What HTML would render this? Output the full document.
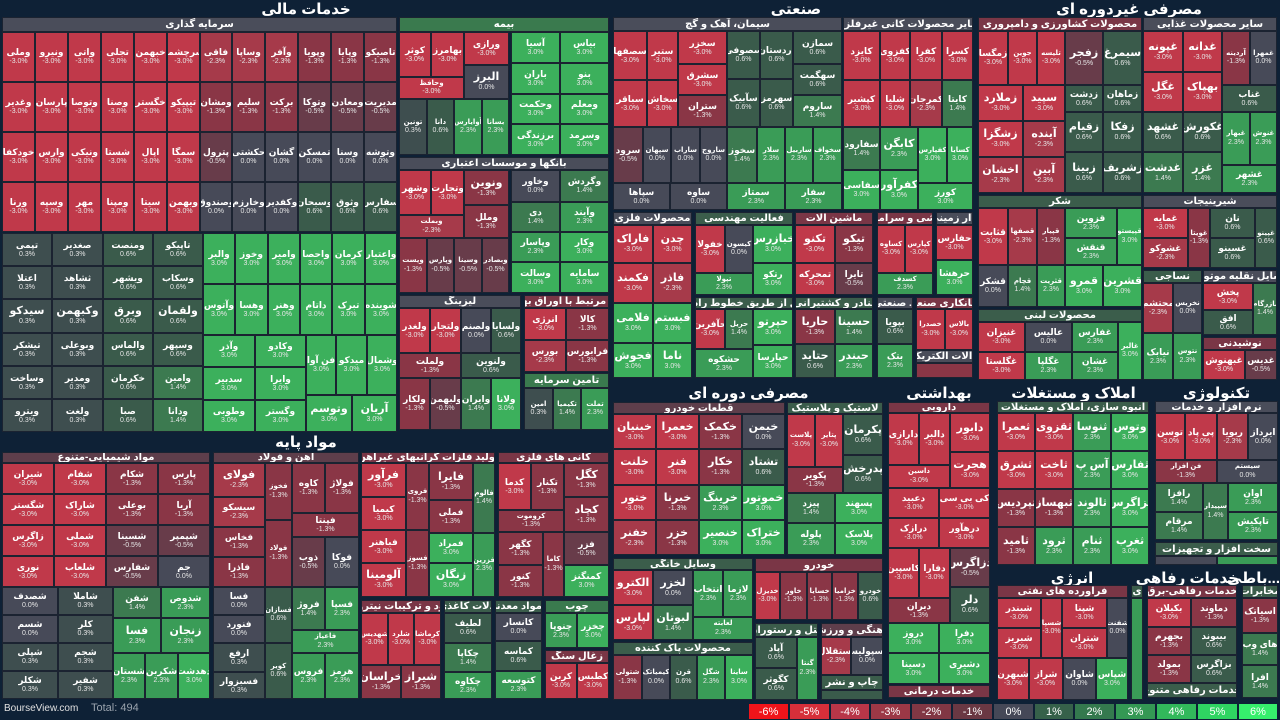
<!DOCTYPE html>
<html><head><meta charset="utf-8">
<style>
html,body{margin:0;padding:0;background:#0e2136;}
#m{position:relative;width:1280px;height:720px;overflow:hidden;background:#0e2136;font-family:"Liberation Sans","DejaVu Sans",sans-serif;direction:rtl;}
.c{position:absolute;box-sizing:border-box;border:1px solid #1b2331;display:flex;flex-direction:column;align-items:center;justify-content:center;color:#fff;overflow:hidden;text-align:center;line-height:1.2;white-space:nowrap}
.c b{font-weight:bold}
.c i{font-style:normal;font-size:7px;color:#e6e6e6;direction:ltr;unicode-bidi:isolate}
.h{position:absolute;box-sizing:border-box;border:1px solid #1b2331;display:flex;align-items:center;justify-content:center;color:#fff;font-size:10px;font-weight:bold;overflow:hidden;white-space:nowrap}
.t{position:absolute;color:#fff;font-size:15px;font-weight:bold;text-align:center;white-space:nowrap}
.lg{position:absolute;top:703px;height:17px;color:#fff;font-size:11px;display:flex;align-items:center;justify-content:center;box-sizing:border-box;border:1px solid #0e2136;font-family:"Liberation Sans",sans-serif;direction:ltr}
</style></head><body>
<div id="m"></div>
<script>
const W=document.getElementById('m');
const P={R:['#c0394a','-3.0%'],r:['#a63a4a','-2.3%'],m:['#8a3646','-1.3%'],n:['#683c4a','-0.5%'],g:['#474a58','0.0%'],h:['#3e4e4f','0.3%'],d:['#3a5b4b','0.6%'],e:['#3c7a50','1.4%'],G:['#3a9c57','2.3%'],B:['#3cb05c','3.0%']};
const HR='#7a3646',HG='#4a4d5a',HD='#3b5d4b',HE='#3a7a4e',HM='#5e3e4b';
function el(x,y,w,h,bg,html,cls){const d=document.createElement('div');d.className=cls;d.style.cssText='left:'+x+'px;top:'+y+'px;width:'+w+'px;height:'+h+'px;background:'+bg;d.innerHTML=html;W.appendChild(d);}
function C(x,y,w,h,c,n){const p=P[c];n=n||'';let fs=(w>=38&&h>=34)?11:(w>=30&&h>=24?9:7);let html;
 if(h>=22&&w>=20){html='<b style="font-size:'+fs+'px">'+n+'</b><i>'+p[1]+'</i>'}else html='<b style="font-size:7px">'+n+'</b>';el(x,y,w,h,p[0],html,'c');}
function H(x,y,w,h,t,bg){el(x,y,w,h,bg,'<span>'+t+'</span>','h');}
function T(x,y,w,t){const d=document.createElement('div');d.className='t';d.style.cssText='left:'+x+'px;top:'+y+'px;width:'+w+'px';d.textContent=t;W.appendChild(d);}
function G(x,y,w,h,rows,cols,cs,ns){ns=ns.split('|');const cw=w/cols,ch=h/rows;let k=0;for(let i=0;i<rows;i++)for(let j=0;j<cols;j++){C(Math.round(x+j*cw),Math.round(y+i*ch),Math.round(x+(j+1)*cw)-Math.round(x+j*cw),Math.round(y+(i+1)*ch)-Math.round(y+i*ch),cs[k],ns[k]||'');k++;}}

T(0,0,612,'خدمات مالی');T(612,0,368,'صنعتی');T(978,0,302,'مصرفی غیردوره ای');
T(0,433,612,'مواد پایه');T(612,384,273,'مصرفی دوره ای');T(885,384,108,'بهداشتی');
T(996,384,155,'املاک و مستغلات');T(1153,384,127,'تکنولوژی');T(996,569,152,'انرژی');
T(1147,569,92,'خدمات رفاهی');T(1238,569,42,'...باطی');

H(2,17,395,15,'سرمایه گذاری',HG);
G(2,32,395,200,4,12,'RRRRRRrrrmmmRRRRRRmmmnnnRRRRRRngggggRRRRRRgggddd',
'وملی|ونیرو|واتی|تجلی|خبهمن|سرچشمه|فاقی|وساپا|وآفر|وپویا|وپایا|تاصیکو|وغدیر|پارسان|وتوصا|وصنا|خگستر|تیپیکو|ومشان|سلیم|برکت|وتوکا|ومعادن|مدیریت|خودکفا|وارس|ونیکی|شستا|اپال|سمگا|پترول|حکشتی|گشان|تمسکن|وسنا|وتوشه|ورنا|وسپه|مهر|ومپنا|سیتا|وبهمن|وصندوق|وخارزم|وکفدیر|وسبحان|وثوق|سفارس');
G(2,233,201,199,6,4,'hhddhhddhhddhhddhhdehhde','تپمی|صغدیر|ومنصت|تاپیکو|اعتلا|ثشاهد|ویشهر|وسکاب|سیدکو|وکبهمن|وبرق|ولقمان|تیشکر|وبوعلی|والماس|وسپهر|وساخت|ومدیر|خکرمان|وامین|ویترو|ولغت|صبا|ودانا');
G(203,233,194,102,2,6,'BBBBBBBBBBBB','والبر|وخوز|وامیر|واحصا|کرمان|واعتبار|وآتوس|وهسا|وهنر|داتام|تبرک|شوینده');
G(203,335,103,97,3,2,'BBBBBB','وآذر|وکادو|سدبیر|وایرا|وطوبی|وگستر');
G(306,335,91,60,1,3,'BBB','فن آوا|میدکو|وشمال');
G(306,395,91,37,1,2,'BB','وتوسم|آریان');
H(399,17,210,15,'بیمه',HE);
C(399,32,32,45,'R','کوثر');C(431,32,33,45,'R','بهامرز');C(399,77,65,22,'R','وحافظ');
C(464,32,45,33,'R','ورازی');C(464,65,45,34,'g','البرز');
C(399,99,28,56,'h','تونین');C(427,99,27,56,'d','دانا');C(454,99,28,56,'G','آوایارس');C(482,99,27,56,'G','بسانا');
G(511,32,98,123,4,2,'BBBBBBBB','آسیا|بیاس|باران|بنو|وحکمت|ومعلم|برزندگی|وسرمد');
H(399,157,210,13,'بانکها و موسسات اعتباری',HG);
C(399,170,32,45,'R','وشهر');C(431,170,33,45,'R','وتجارت');C(399,215,65,23,'r','وبملت');
C(464,170,45,35,'m','ونوین');C(464,205,45,33,'m','وملل');
C(399,238,28,55,'m','وپست');C(427,238,27,55,'n','وپارس');C(454,238,28,55,'n','وسینا');C(482,238,27,55,'n','وبصادر');
C(511,170,49,32,'g','وخاور');C(560,170,49,32,'e','وگردش');C(511,202,49,30,'e','دی');C(560,202,49,30,'G','وآیند');
C(511,232,49,30,'G','وپاسار');C(560,232,49,30,'B','وکار');C(511,262,49,31,'B','وسالت');C(560,262,49,31,'B','سامایه');
H(399,295,122,13,'لیزینگ',HG);
C(399,308,31,45,'R','ولغدر');C(430,308,31,45,'R','ولتجار');C(461,308,30,45,'g','ولصنم');C(491,308,30,45,'d','ولسایا');
C(399,353,62,25,'m','ولملت');C(461,353,60,25,'d','ولنوین');
C(399,378,31,52,'m','ولکار');C(430,378,31,52,'n','ولبهمن');C(461,378,30,52,'e','وایران');C(491,378,30,52,'B','ولانا');
H(524,295,85,13,'...ای مرتبط با اوراق بهادار',HR);
C(524,308,42,32,'R','انرژی');C(566,308,43,32,'m','کالا');C(524,340,42,32,'r','بورس');C(566,340,43,32,'m','فرابورس');
H(524,373,85,15,'تامین سرمایه',HE);
C(524,388,29,42,'h','امین');C(553,388,28,42,'e','تکیمیا');C(581,388,28,42,'G','تملت');

H(613,17,229,14,'سیمان، آهک و گچ',HG);
C(613,31,34,49,'R','سصفها');C(647,31,31,49,'R','ستیر');C(613,80,34,47,'R','سباقر');C(647,80,31,47,'R','سخاش');
C(678,31,49,33,'R','سخزر');C(678,64,49,31,'R','سشرق');C(678,95,49,32,'m','ستران');
C(727,31,33,48,'d','سصوفی');C(760,31,33,48,'d','اردستان');C(727,79,33,48,'d','سآبیک');C(760,79,33,48,'d','سهرمز');
C(793,31,49,33,'d','سمازن');C(793,64,49,31,'d','سهگمت');C(793,95,49,32,'e','ساروم');
C(613,127,30,56,'n','سرود');C(643,127,28,56,'g','سپهان');C(671,127,29,56,'g','ساراب');C(700,127,27,56,'g','ساروج');
C(727,127,30,56,'e','سخوز');C(757,127,28,56,'G','سلار');C(785,127,28,56,'G','ساربیل');C(813,127,29,56,'G','سخواف');
C(613,183,57,27,'g','سپاها');C(670,183,57,27,'g','ساوه');C(727,183,58,27,'G','سمتاز');C(785,183,57,27,'G','سفار');
H(843,17,130,14,'سایر محصولات کانی غیرفلزی',HG);
C(843,31,37,49,'R','کایزد');C(880,31,30,49,'R','کفزوی');C(910,31,32,49,'R','کفرا');C(942,31,31,49,'R','کسرا');
C(843,80,37,47,'R','کپشیر');C(880,80,30,47,'R','شلیا');C(910,80,32,47,'r','کمرجان');C(942,80,31,47,'e','کایتا');
C(843,127,37,43,'e','سفارود');C(880,127,38,43,'G','کابگن');C(843,170,37,40,'B','سفاسی');C(880,170,38,40,'B','کفرآور');
C(918,127,29,56,'B','کفپارس');C(947,127,26,56,'B','کسایا');C(918,183,55,27,'B','کورز');
H(613,212,79,13,'محصولات فلزی',HG);
C(613,225,40,38,'R','فاراک');C(653,225,39,38,'R','چدن');C(613,263,40,40,'R','فکمند');C(653,263,39,40,'r','فاذر');
C(613,303,40,40,'B','فلامی');C(653,303,39,40,'B','فبستم');C(613,343,40,35,'B','فجوش');C(653,343,39,35,'B','ناما');
H(695,212,98,13,'فعالیت مهندسی',HD);
C(695,225,30,48,'R','خفولا');C(725,225,28,48,'g','کیسون');C(695,273,58,22,'G','تپولا');C(753,225,40,38,'B','خبازرس');C(753,263,40,32,'B','رتکو');
H(695,297,98,12,'...نقل از طریق خطوط راه آهن',HD);
C(695,309,30,40,'R','حآفرین');C(725,309,28,40,'e','حریل');C(695,349,58,29,'G','حشکوه');C(753,309,40,36,'B','حپرتو');C(753,345,40,33,'B','حپارسا');
H(795,212,78,13,'ماشین آلات',HR);
C(795,225,40,38,'R','تکنو');C(835,225,38,38,'m','تیکو');C(795,263,40,32,'R','تمحرکه');C(835,263,38,32,'n','تایرا');
H(795,297,78,12,'بنادر و کشتیرانی',HD);
C(795,309,40,35,'m','حاریا');C(835,309,38,35,'e','حسینا');C(795,344,40,34,'d','حتاید');C(835,344,38,34,'G','حبندر');
H(877,212,56,13,'کاشی و سرامیک',HR);
C(877,225,28,48,'R','کساوه');C(905,225,28,48,'R','کپارس');C(877,273,56,22,'G','کسدف');
H(936,212,37,13,'...ار زمینی',HG);
C(936,225,37,35,'R','حفارس');C(936,260,37,35,'B','حرهشا');
H(877,297,36,12,'... صنعتی',HG);
C(877,309,36,35,'d','بپویا');C(877,344,36,34,'G','بتک');
H(916,297,57,12,'پیمانکاری صنعتی',HR);
C(916,309,29,41,'R','خصدرا');C(945,309,28,41,'R','بالاس');
H(916,350,57,13,'... آلات الکتریکی',HG);C(916,363,57,15,'m','');

H(978,17,164,14,'محصولات کشاورزی و دامپروری',HR);
C(978,31,30,54,'R','زمگسا');C(1008,31,29,54,'R','جوین');C(1037,31,28,54,'R','تلیسه');C(1065,31,38,54,'n','زفجر');C(1103,31,39,54,'d','سیمرغ');
C(978,85,45,36,'R','زملارد');C(1023,85,42,36,'R','سپید');C(978,121,45,36,'R','زشگزا');C(1023,121,42,36,'r','آینده');C(978,157,45,36,'r','اخشان');C(1023,157,42,36,'r','آبین');
C(1065,85,38,27,'d','زدشت');C(1103,85,39,27,'d','زماهان');C(1065,112,38,40,'d','زقیام');C(1103,112,39,40,'d','زفکا');C(1065,152,38,41,'d','زبینا');C(1103,152,39,41,'d','زشریف');
H(1143,17,134,14,'سایر محصولات غذایی',HG);
C(1143,31,40,41,'R','غپونه');C(1183,31,39,41,'R','غدانه');C(1143,72,40,40,'R','غگل');C(1183,72,39,40,'R','بهپاک');
C(1222,31,28,54,'m','آردینه');C(1250,31,27,54,'g','غمهرا');C(1222,85,55,27,'d','غناب');
C(1143,112,40,40,'d','غشهد');C(1183,112,39,40,'d','غکورش');C(1143,152,40,41,'e','غدشت');C(1183,152,39,41,'e','غزر');
C(1222,112,28,53,'G','غبهار');C(1250,112,27,53,'G','غنوش');C(1222,165,55,28,'G','غشهر');
H(978,195,164,13,'شکر',HD);
C(978,208,30,57,'R','قثابت');C(1008,208,29,57,'r','قصفها');C(1037,208,28,57,'m','قپیار');C(1065,208,52,30,'G','قزوین');C(1065,238,52,27,'G','قنقش');C(1117,208,25,57,'B','قپیستو');
C(978,265,30,42,'g','قشکر');C(1008,265,29,42,'e','قچام');C(1037,265,28,42,'G','قثریت');C(1065,265,38,42,'B','قمرو');C(1103,265,39,42,'B','قشرین');
H(978,309,164,13,'محصولات لبنی',HD);
C(978,322,47,30,'R','غنیزان');C(1025,322,47,30,'g','عالیس');C(978,352,47,28,'R','غگلستا');C(1025,352,47,28,'G','غگلپا');
C(1072,322,46,30,'G','غفارس');C(1072,352,46,28,'G','غشان');C(1118,322,24,58,'B','غالبر');
H(1143,195,134,13,'شیرینیجات',HG);
C(1143,208,45,30,'R','غمایه');C(1143,238,45,30,'r','غشوکو');C(1188,208,22,60,'m','غویتا');C(1210,208,45,30,'d','نان');C(1210,238,45,30,'d','غسینو');C(1255,208,22,60,'d','غپینو');
H(1143,270,59,13,'نساجی',HD);
C(1143,283,30,50,'r','محتشم');C(1173,283,29,50,'g','نخریس');C(1143,333,30,47,'G','نیابک');C(1173,333,29,47,'G','نتوس');
H(1203,270,74,13,'...سایل نقلیه موتوری',HG);
C(1203,283,50,27,'R','پخش');C(1203,310,50,25,'d','افق');C(1253,283,24,52,'e','بازرگام');
H(1203,337,74,13,'نوشیدنی',HR);
C(1203,350,42,30,'R','غبهنوش');C(1245,350,32,30,'n','غدیس');

H(613,402,172,12,'قطعات خودرو',HM);
G(613,414,172,141,4,4,'RRmgRRmdRmGBrmBB','خبنیان|خعمرا|خکمک|خیمن|خلنت|فنر|خکار|تشتاد|ختور|خبرنا|خرینگ|خموتور|خفنر|خزر|خنصیر|ختراک');
H(787,402,96,12,'لاستیک و پلاستیک',HD);
C(787,414,28,53,'R','پلاست');C(815,414,28,53,'R','پتایر');C(787,467,56,26,'m','پکویر');C(843,414,40,41,'d','پکرمان');C(843,455,40,38,'d','پدرخش');
C(787,493,48,30,'e','پیزد');C(835,493,48,30,'B','پسهند');C(787,523,48,32,'G','پلوله');C(835,523,48,32,'B','پلاسک');
H(613,558,140,12,'وسایل خانگی',HD);
C(613,570,40,35,'R','الکترو');C(653,570,40,35,'g','لخزر');C(613,605,40,35,'R','لپارس');C(653,605,40,35,'e','لبوتان');
C(693,570,30,47,'G','انتخاب');C(723,570,30,47,'G','لازما');C(693,617,60,23,'G','لعابته');
H(755,558,128,14,'خودرو',HR);
C(755,572,25,48,'R','خدیزل');C(780,572,27,48,'m','خاور');C(807,572,25,48,'m','خسایا');C(832,572,26,48,'m','خزامیا');C(858,572,25,48,'d','خودرو');
H(613,642,140,13,'محصولات پاک کننده',HD);
C(613,655,29,45,'m','شتولی');C(642,655,28,45,'g','کیمیاتک');C(670,655,27,45,'d','قرن');C(697,655,28,45,'G','شگل');C(725,655,28,45,'B','ساینا');
H(755,623,63,14,'هتل و رستوران',HD);
C(755,637,42,31,'d','آپاد');C(755,668,42,32,'d','کگوثر');C(797,637,21,63,'G','گنتا');
H(821,623,62,14,'...رهنگی و ورزشی',HM);
C(821,637,30,38,'r','استقلال');C(851,637,32,38,'g','رسپولیس');
H(821,675,62,15,'چاپ و نشر',HD);C(821,690,62,10,'d','');

H(888,402,102,11,'دارویی',HR);
C(888,413,31,52,'R','دارازی');C(919,413,31,52,'R','دالبر');C(950,413,40,39,'R','دابور');C(888,465,62,23,'R','داسین');C(950,452,40,36,'R','هجرت');
C(888,488,51,30,'R','دعبید');C(939,488,51,30,'R','کی بی سی');C(888,518,51,30,'R','درازک');C(939,518,51,30,'R','درهآور');
C(888,548,31,50,'R','کاسپین');C(919,548,31,50,'R','دفارا');C(950,548,40,39,'n','دزاگرس');C(888,598,62,25,'m','دیران');C(950,587,40,36,'d','دلر');
C(888,623,51,30,'B','دروز');C(939,623,51,30,'B','دفرا');C(888,653,51,31,'B','دسینا');C(939,653,51,31,'B','دشیری');
H(888,685,102,13,'خدمات درمانی',HR);

H(997,401,152,12,'انبوه سازی، املاک و مستغلات',HD);
G(997,413,152,152,4,4,'RRGBRRGBmmGBmGGB','ثعمرا|ثقزوی|ثنوسا|وتوس|ثشرق|ثاخت|آس پ|ثفارس|ثپردیس|ثبهساز|ثالوند|ثزاگرس|ثامید|ثرود|ثنام|ثغرب');

H(1155,401,123,12,'نرم افزار و خدمات',HG);
C(1155,413,30,47,'R','توسن');C(1185,413,32,47,'R','پی پاد');C(1217,413,31,47,'r','ربویا');C(1248,413,30,47,'g','ایرداز');
C(1155,460,62,23,'m','فن افزار');C(1217,460,61,23,'g','سیستم');
C(1155,483,48,29,'e','رافزا');C(1155,512,48,28,'e','مرقام');C(1203,483,25,57,'e','سپیدار');C(1228,483,50,29,'G','اوان');C(1228,512,50,28,'G','تاپکیش');
H(1155,542,123,14,'سخت افزار و تجهیزات',HD);C(1155,556,62,9,'g','');C(1217,556,61,9,'G','');

H(997,585,131,13,'فراورده های نفتی',HR);
C(997,598,44,30,'R','شبندر');C(997,628,44,30,'R','شبریز');C(1041,598,21,60,'R','شسپا');C(1062,598,45,30,'R','شپنا');C(1062,628,45,30,'R','شتران');C(1107,598,21,60,'g','شفنت');
C(997,658,32,42,'R','شبهرن');C(1029,658,34,42,'R','شراز');C(1063,658,33,42,'g','شاوان');C(1096,658,32,42,'B','شپاس');
H(1131,585,12,13,'ی',HD);C(1131,598,12,102,'G','');

H(1147,585,90,13,'خدمات رفاهی-برق',HR);
C(1147,598,44,29,'R','بکیلان');C(1191,598,46,29,'m','دماوند');C(1147,627,44,28,'m','بجهرم');C(1191,627,46,28,'d','بیبوند');C(1147,655,44,28,'m','بمولد');C(1191,655,46,28,'d','بزاگرس');
H(1147,683,90,15,'خدمات رفاهی متنوع',HD);

H(1242,585,36,13,'مخابرات',HD);
C(1242,598,36,35,'m','اسیاتک');C(1242,633,36,32,'e','های وب');C(1242,665,36,33,'e','افرا');

H(2,452,208,11,'مواد شیمیایی-متنوع',HM);
G(2,463,208,124,4,4,'RRmmRRmmRRnnRRng','شیران|شفام|شکام|پارس|شگستر|شاراک|بوعلی|آریا|زاگرس|شملی|شسینا|شپمپر|نوری|شلعاب|شفارس|جم');
G(2,587,111,112,4,2,'ghghhhhh','شصدف|شاملا|شسم|کلر|شپلی|شجم|شکلر|شفیر');
C(113,587,48,31,'e','شفن');C(161,587,49,31,'G','شدوص');C(113,618,48,35,'G','فسا');C(161,618,49,35,'G','زنجان');
C(113,653,32,46,'G','شستان');C(145,653,33,46,'G','شکربن');C(178,653,32,46,'B','دهدشت');
H(213,452,146,11,'آهن و فولاد',HM);
C(213,463,52,34,'r','فولای');C(213,497,52,30,'r','سیسکو');C(213,527,52,30,'m','فخاس');C(213,557,52,30,'m','فاذرا');
C(265,463,27,57,'m','فخوز');C(265,520,27,67,'m','فولاد');C(292,463,33,50,'m','کاوه');C(325,463,34,50,'m','فولاژ');
C(292,513,67,24,'m','فپنتا');C(292,537,33,50,'n','ذوب');C(325,537,34,50,'g','فوکا');
C(213,587,52,28,'g','فسا');C(213,615,52,28,'g','فنورد');C(213,643,52,29,'h','ارفع');C(213,672,52,27,'h','فسبزوار');
C(265,587,27,56,'d','فسازان');C(265,643,27,56,'d','کویر');C(292,587,33,43,'e','فروژ');C(325,587,34,43,'G','فسپا');
C(292,630,67,23,'G','فاعیاز');C(325,653,34,46,'G','هرمز');C(292,653,33,46,'G','فروس');
H(361,452,134,11,'تولید فلزات گرانبهای غیرآهن',HR);
C(361,463,45,34,'R','فرآور');C(361,497,45,33,'R','کیمیا');C(361,530,45,33,'R','فباهنر');C(361,563,45,34,'R','آلومینا');
C(406,463,23,67,'m','فروی');C(406,530,23,67,'m','فسوز');C(429,463,44,37,'m','فایرا');C(429,500,44,33,'m','فملی');
C(429,533,44,30,'B','فمراد');C(429,563,44,34,'B','زنگان');C(473,463,22,70,'e','فالوم');C(473,533,22,64,'G','فزرین');
H(498,452,111,11,'کانی های فلزی',HR);
C(498,463,33,47,'R','کدما');C(531,463,33,47,'m','تکنار');C(564,463,45,34,'m','کگل');C(498,510,66,22,'m','کروموت');
C(564,497,45,35,'m','کچاد');C(498,532,45,33,'m','کگهر');C(498,565,45,32,'m','کنور');C(543,532,21,65,'m','کاما');
C(564,532,45,33,'n','فزر');C(564,565,45,32,'B','کمنگنز');
H(361,600,80,13,'...کود و ترکیبات نیتروژن',HR);
C(361,613,27,52,'R','شهدیس');C(388,613,26,52,'R','شلرد');C(414,613,27,52,'R','کرماشا');C(361,665,40,34,'m','خراسان');C(401,665,40,34,'m','شیراز');
H(444,600,48,13,'...لات کاغذی',HD);
C(444,613,48,30,'d','لطیف');C(444,643,48,29,'e','چکاپا');C(444,672,48,27,'G','چکاوه');
H(495,600,47,13,'...مواد معدنی',HD);
C(495,613,47,28,'g','کانسار');C(495,641,47,30,'d','کماسه');C(495,671,47,28,'G','کتوسعه');
H(545,600,64,13,'چوب',HE);
C(545,613,32,35,'G','چنوپا');C(577,613,32,35,'B','چخزر');
H(545,650,64,13,'زغال سنگ',HR);
C(545,663,32,36,'R','کربن');C(577,663,32,36,'R','کطبس');

(function(){
 const f=document.createElement('div');f.style.cssText='position:absolute;left:4px;top:703px;color:#e0e0e0;font-size:10px;direction:ltr;font-family:"Liberation Sans",sans-serif';f.textContent='BourseView.com';W.appendChild(f);
 const t=document.createElement('div');t.style.cssText='position:absolute;left:91px;top:702px;color:#9aa3ad;font-size:11px;direction:ltr;font-family:"Liberation Sans",sans-serif';t.textContent='Total: 494';W.appendChild(t);
 const L=[['-6%','#f0141a'],['-5%','#d62f3a'],['-4%','#b83648'],['-3%','#9c3846'],['-2%','#813744'],['-1%','#6a3843'],['0%','#454857'],['1%','#36614a'],['2%','#34794e'],['3%','#349854'],['4%','#32b85b'],['5%','#2fd462'],['6%','#36ef6c']];
 L.forEach((l,i)=>{const x=Math.round(748+i*40.8),x2=Math.round(748+(i+1)*40.8);const d=document.createElement('div');d.className='lg';d.style.left=x+'px';d.style.width=(x2-x)+'px';d.style.background=l[1];d.textContent=l[0];W.appendChild(d);});
})();
</script>
</body></html>
